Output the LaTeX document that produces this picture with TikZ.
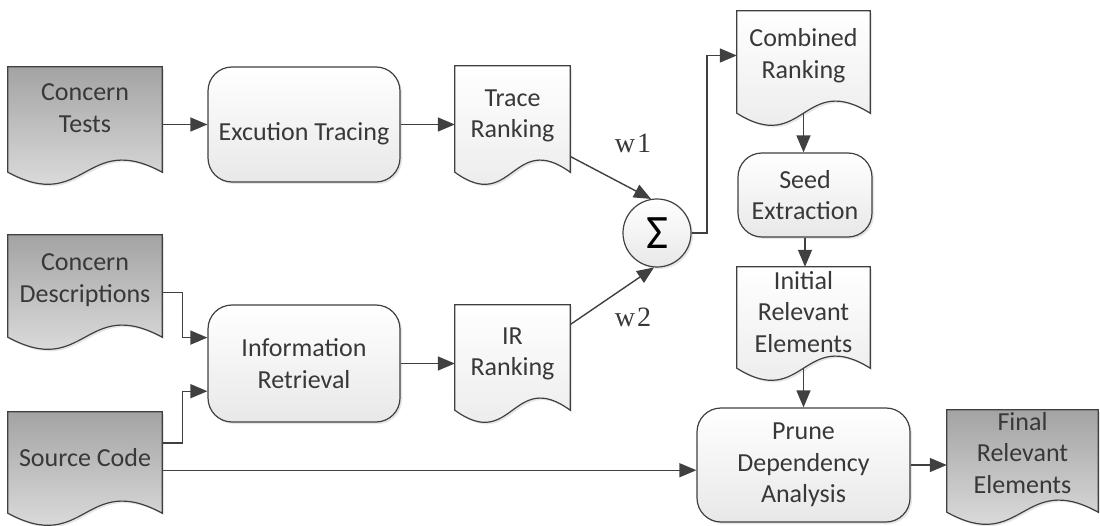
\documentclass[tikz,border=0pt]{standalone}
\usepackage{fontspec}
\setmainfont{Carlito}
\newfontfamily\wfont{Liberation Serif}
\usetikzlibrary{arrows.meta,calc,backgrounds,shadows}
\definecolor{edge}{HTML}{404040}
\definecolor{ink}{HTML}{383838}

\begin{document}
\begin{tikzpicture}[x=1pt,y=-1pt,
  lbl/.style={align=center, text=ink, font=\fontsize{26}{31.5}\selectfont},
  docbox/.style={lbl, rectangle, draw=none, inner sep=0pt},
  indoc/.style={draw=edge, line width=1.2pt, top color=black!36, bottom color=black!9,
    drop shadow={opacity=.2, shadow xshift=2pt, shadow yshift=-2pt}},
  middoc/.style={draw=edge, line width=1.2pt, top color=white, bottom color=black!9,
    drop shadow={opacity=.2, shadow xshift=2pt, shadow yshift=-2pt}},
  procbox/.style={lbl, rectangle, rounded corners=24pt, draw=edge, line width=1.2pt,
    top color=white, bottom color=black!9,
    drop shadow={opacity=.2, shadow xshift=2pt, shadow yshift=-2pt}},
  sumnode/.style={circle, minimum size=68pt, inner sep=0pt, draw=edge, line width=1.2pt,
    top color=white, bottom color=black!9, text=black,
    drop shadow={opacity=.2, shadow xshift=2pt, shadow yshift=-2pt},
    font=\fontsize{48}{48}\selectfont},
  wlabel/.style={text=ink, font=\wfont\fontsize{28}{28}\selectfont},
  flow/.style={draw=edge, line width=1.4pt, -{Triangle[length=17pt,width=14pt]}}]
\useasboundingbox (0,0) rectangle (1100,526);

% documents (box = text area, the wavy edge hangs below it)
\node[docbox, minimum width=154pt, minimum height=82pt] (ct) at (85,108) {Concern\\Tests};
\node[docbox, minimum width=154pt, minimum height=90pt] (cd) at (85,280) {Concern\\Descriptions};
\node[docbox, minimum width=154pt, minimum height=92pt] (sc) at (85,458) {Source Code};
\node[docbox, minimum width=115pt, minimum height=100pt] (tr) at (512.5,116) {Trace\\Ranking};
\node[docbox, minimum width=115pt, minimum height=98pt] (ir) at (512.5,354) {IR\\Ranking};
\node[docbox, minimum width=133pt, minimum height=89pt] (cr) at (803.5,55.5) {Combined\\Ranking};
\node[docbox, minimum width=133pt, minimum height=90pt] (ire) at (803.5,312) {Initial\\Relevant\\Elements};
\node[docbox, minimum width=151pt, minimum height=86pt] (fre) at (1022.5,453) {Final\\Relevant\\Elements};

% processes
\node[procbox, minimum width=192pt, minimum height=115pt] (et) at (304,124.5) {\raisebox{-16pt}[0pt][0pt]{Excution Tracing}};
\node[procbox, minimum width=192pt, minimum height=117pt] (inf) at (304,363.5) {Information\\Retrieval};
\node[procbox, minimum width=134pt, minimum height=84pt] (se) at (805,195) {Seed\\Extraction};
\node[procbox, minimum width=213pt, minimum height=114pt] (pda) at (803.5,465) {Prune\\Dependency\\Analysis};
\node[sumnode] (sig) at (657,233) {Σ};

\node[wlabel] (w1) at (633,143) {w\kern2pt 1};
\node[wlabel] (w2) at (633,317) {w\kern2pt 2};

\begin{scope}[on background layer]
\foreach \d/\e in {ct/23,cd/12,sc/9,fre/16}
  \path[indoc] (\d.north west) -- ([yshift=-\e pt]\d.south west)
    .. controls ($(\d.south)+(0,\e+42)$) and ($(\d.south)+(0,\e-42)$) .. ([yshift=-\e pt]\d.south east)
    -- (\d.north east) -- cycle;
\foreach \d/\e in {tr/6,ir/7,cr/13,ire/11}
  \path[middoc] (\d.north west) -- ([yshift=-\e pt]\d.south west)
    .. controls ($(\d.south)+(0,\e+42)$) and ($(\d.south)+(0,\e-42)$) .. ([yshift=-\e pt]\d.south east)
    -- (\d.north east) -- cycle;
\end{scope}

% connectors
\draw[flow] (et.west -| ct.east) -- (et.west);
\draw[flow] (et.east) -- (et.east -| tr.west);
\draw[flow] (inf.east) -- (inf.east -| ir.west);
\draw[flow] (cd.-9) -| ([xshift=-25pt]inf.165) -- (inf.165);
\draw[flow] (sc.11) -| ([xshift=-25pt]inf.196) -- (inf.196);
\draw[flow] (sc.-9) -- (sc.-9 -| pda.west);
\draw[flow] (tr.-35) -- (sig.100);
\draw[flow] (ir.27) -- (sig.-95);
\draw[flow] (sig.east) -| ([xshift=-30pt]cr.west) -- (cr.west);
\draw[flow] ([yshift=-13pt]cr.south) -- (cr.south |- se.north);
\draw[flow] (se.south) -- (se.south |- ire.north);
\draw[flow] ([yshift=-11pt]ire.south) -- (ire.south |- pda.north);
\draw[flow] (pda.east) -- (pda.east -| fre.west);
\end{tikzpicture}
\end{document}
